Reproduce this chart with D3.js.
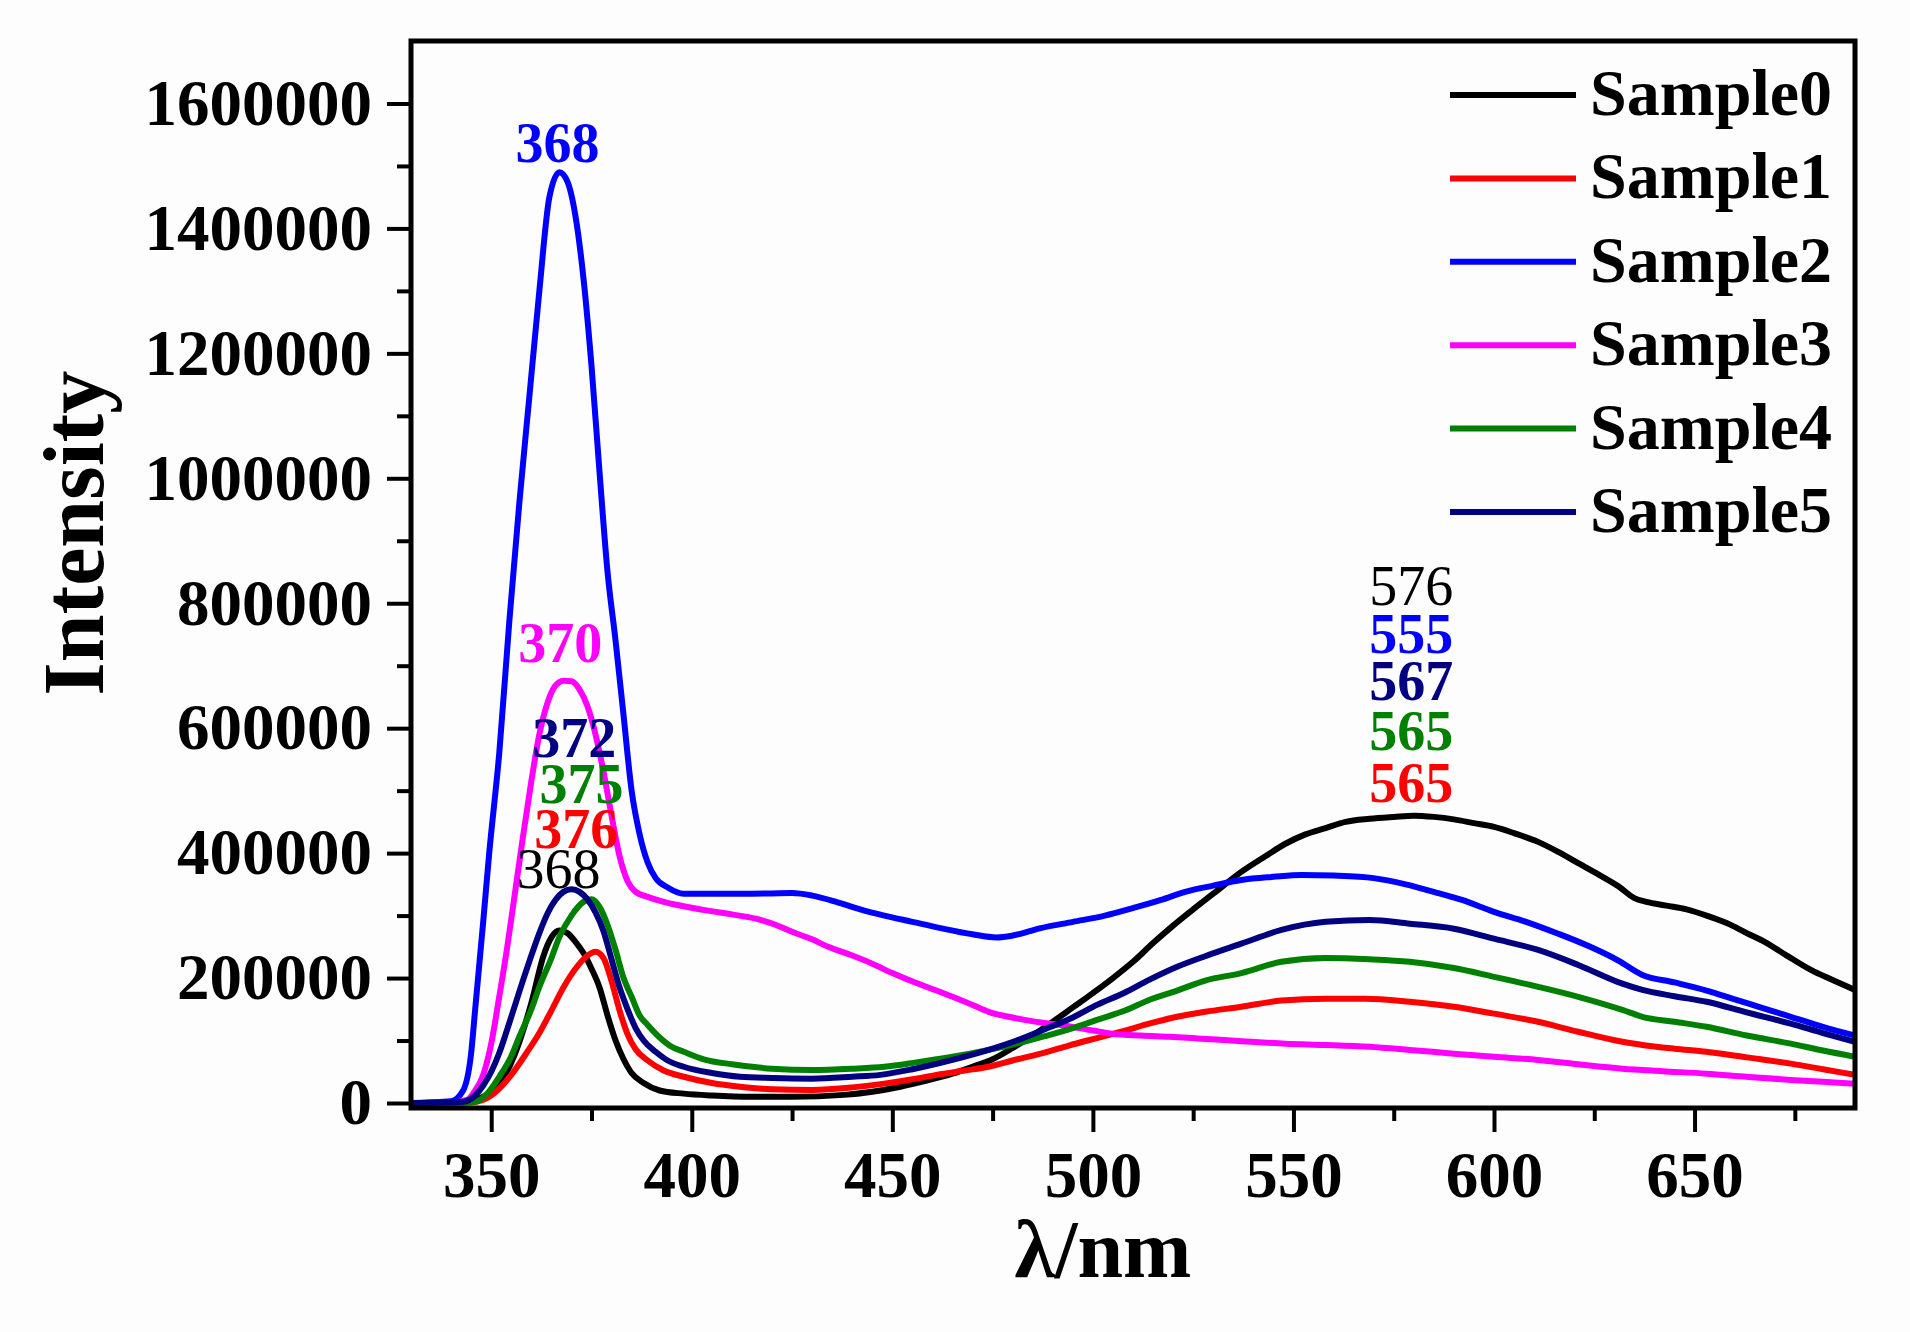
<!DOCTYPE html>
<html>
<head>
<meta charset="utf-8">
<script src="https://cdn.jsdelivr.net/npm/d3@7"></script>
<style>
  html, body { margin: 0; padding: 0; background: #fdfdfd; }
  svg { display: block; }
  text { font-family: "Liberation Serif", "Times New Roman", serif; }
</style>
</head>
<body>
<svg id="chart"></svg>
<script>
// series names and colours
const seriesNames = ["Sample0", "Sample1", "Sample2", "Sample3", "Sample4", "Sample5"];
const seriesColors = ["#000000", "#ff0000", "#0000ff", "#ff00ff", "#008000", "#000080"];

// [wavelength nm, intensity]
const sample0 = [[330,0],[344,2000],[348,10000],[352,30000],[356,80000],[360,160000],[363,235000],[365,265000],[367,276000],[369,272000],[371,258000],[373,240000],[375,215000],[377,185000],[379,140000],[381,100000],[383,70000],[385,48000],[388,32000],[392,20000],[398,15000],[405,12000],[415,10000],[425,10000],[438,13000],[445,18000],[452,26000],[458,35000],[465,47000],[470,58000],[475,70000],[480,88000],[485,108000],[490,130000],[495,153000],[500,176000],[505,200000],[510,226000],[515,256000],[520,284000],[525,310000],[530,335000],[537,370000],[543,395000],[548,415000],[553,430000],[558,440000],[563,450000],[569,455000],[575,458000],[580,460000],[585,458000],[590,454000],[595,448000],[600,442000],[605,432000],[611,418000],[616,402000],[621,384000],[626,366000],[631,347000],[635,328000],[638,322000],[643,316000],[648,310000],[653,300000],[658,288000],[663,272000],[668,256000],[673,236000],[679,213000],[684,198000],[690,181000]];
const sample1 = [[330,0],[345,1000],[350,12000],[355,45000],[359,82000],[362,112000],[365,148000],[368,185000],[371,215000],[374,236000],[376,242000],[378,232000],[380,195000],[382,148000],[384,110000],[386,86000],[389,68000],[393,52000],[398,42000],[405,32000],[412,26000],[420,22000],[430,21000],[440,25000],[448,31000],[455,38000],[461,45000],[468,52000],[474,58000],[480,68000],[487,79000],[494,92000],[501,104000],[508,116000],[514,127000],[521,138000],[528,146000],[537,154000],[547,164000],[558,167000],[568,167000],[579,162000],[590,154000],[600,143000],[611,130000],[621,114000],[632,98000],[637,93000],[645,87000],[653,82000],[663,73000],[674,63000],[682,54000],[690,45000]];
const sample2 = [[330,0],[340,3000],[343,20000],[345,80000],[346,150000],[348,290000],[349.5,400000],[352,560000],[354.5,770000],[357,960000],[359.5,1130000],[362,1300000],[364.5,1450000],[367,1490000],[369,1475000],[371,1420000],[373,1320000],[375,1180000],[377,1010000],[379,850000],[381,740000],[383,620000],[385,500000],[387,430000],[389,385000],[391,360000],[394,345000],[398,335000],[405,335000],[415,335000],[425,336000],[430,332000],[436,322000],[442,310000],[448,300000],[455,290000],[462,280000],[470,270000],[476,265000],[480,268000],[487,280000],[495,290000],[503,300000],[510,312000],[517,325000],[523,338000],[530,348000],[537,357000],[545,362000],[552,365000],[560,364000],[570,360000],[578,350000],[585,338000],[592,325000],[600,306000],[608,290000],[616,271000],[624,250000],[631,228000],[637,205000],[645,193000],[653,180000],[660,166000],[667,152000],[674,138000],[682,122000],[690,108000]];
const sample3 = [[330,0],[340,1000],[344,5000],[346,20000],[348,45000],[350,95000],[352,170000],[354,250000],[356,340000],[358,430000],[360,515000],[362,590000],[364,640000],[366,668000],[368,676000],[370,675000],[372,662000],[374,635000],[376,590000],[378,530000],[380,460000],[382,395000],[384,355000],[386,338000],[389,330000],[393,322000],[398,315000],[404,308000],[410,302000],[416,295000],[421,285000],[425,274000],[430,262000],[434,250000],[440,236000],[445,223000],[450,208000],[456,192000],[461,180000],[465,170000],[470,157000],[474,146000],[479,138000],[483,133000],[488,128000],[492,125000],[500,116000],[505,111000],[512,108000],[519,106000],[527,103000],[537,99000],[548,95000],[558,93000],[569,90000],[579,85000],[590,79000],[600,74000],[611,69000],[621,62000],[632,55000],[642,51000],[653,47000],[663,42000],[674,37000],[682,34000],[690,31000]];
const sample4 = [[330,0],[346,2000],[349,15000],[352,42000],[355,75000],[357,106000],[360,150000],[362,186000],[365,232000],[367,266000],[370,300000],[373,322000],[375,326000],[377,314000],[379,285000],[381,245000],[383,200000],[385,170000],[387,140000],[389,125000],[392,105000],[395,90000],[398,82000],[403,70000],[410,62000],[420,55000],[430,53000],[440,55000],[448,58000],[456,65000],[465,74000],[474,85000],[481,95000],[488,107000],[495,120000],[501,133000],[508,148000],[514,165000],[521,180000],[528,196000],[537,208000],[547,226000],[558,232000],[569,230000],[579,226000],[590,216000],[600,202000],[611,186000],[621,170000],[632,149000],[637,138000],[645,130000],[653,122000],[663,108000],[674,95000],[682,84000],[690,74000]];
const sample5 = [[330,0],[343,2000],[346,12000],[348,28000],[350,50000],[352,80000],[354,118000],[356,158000],[358,198000],[360,236000],[362,272000],[364,303000],[366,325000],[368,338000],[370,342000],[372,338000],[374,326000],[376,305000],[378,275000],[380,230000],[382,185000],[384,150000],[386,120000],[388,100000],[391,82000],[394,68000],[398,58000],[405,48000],[412,42000],[420,40000],[430,39000],[440,42000],[447,45000],[455,54000],[465,69000],[474,85000],[481,100000],[488,118000],[495,137000],[501,157000],[508,177000],[514,197000],[521,218000],[528,235000],[537,255000],[547,277000],[558,290000],[569,293000],[579,287000],[590,279000],[600,263000],[611,245000],[621,221000],[632,191000],[637,181000],[645,171000],[653,162000],[663,145000],[674,127000],[682,112000],[690,98000]];
const seriesData = [sample0, sample1, sample2, sample3, sample4, sample5];

// peak annotations: text, series index, anchor in data units (wavelength, intensity)
const peakLabels = [
  { text: "368", s: 2, x: 366.5, y: 1506000 },
  { text: "370", s: 3, x: 367.2, y: 706000 },
  { text: "372", s: 5, x: 370.7, y: 554000 },
  { text: "375", s: 4, x: 372.5, y: 480000 },
  { text: "376", s: 1, x: 371.2, y: 408000 },
  { text: "368", s: 0, x: 366.8, y: 344000 },
  { text: "576", s: 0, x: 579.4, y: 797000 },
  { text: "555", s: 2, x: 579.4, y: 720000 },
  { text: "567", s: 5, x: 579.4, y: 645000 },
  { text: "565", s: 4, x: 579.4, y: 565000 },
  { text: "565", s: 1, x: 579.4, y: 482000 }
];

// axis ticks
const xMajorTicks = [350, 400, 450, 500, 550, 600, 650];
const xMinorTicks = [375, 425, 475, 525, 575, 625, 675];
const yMajorTicks = [0, 200000, 400000, 600000, 800000, 1000000, 1200000, 1400000, 1600000];
const yMinorTicks = [100000, 300000, 500000, 700000, 900000, 1100000, 1300000, 1500000];

const width = 1910, height = 1332;
const margin = { left: 411, right: 55, top: 41, bottom: 224 };
const fontFamily = '"Liberation Serif", "Times New Roman", serif';

const svg = d3.select("#chart")
  .attr("width", width)
  .attr("height", height);

svg.append("rect")
  .attr("width", width)
  .attr("height", height)
  .attr("fill", "#fdfdfd");

const x = d3.scaleLinear().domain([330, 690]).range([margin.left, width - margin.right]);
const y = d3.scaleLinear().domain([-8000, 1700000]).range([height - margin.bottom, margin.top]);

// clip lines to the plot frame
svg.append("clipPath")
  .attr("id", "plotClip")
  .append("rect")
  .attr("x", margin.left)
  .attr("y", margin.top)
  .attr("width", width - margin.left - margin.right)
  .attr("height", height - margin.top - margin.bottom);

const line = d3.line()
  .x(d => x(d[0]))
  .y(d => y(d[1]))
  .curve(d3.curveMonotoneX);

// draw spectra
svg.append("g")
  .attr("clip-path", "url(#plotClip)")
  .selectAll("path")
  .data(seriesData)
  .join("path")
  .attr("fill", "none")
  .attr("stroke", (d, i) => seriesColors[i])
  .attr("stroke-width", 6)
  .attr("stroke-linejoin", "round")
  .attr("d", line);

// x axis (major + minor ticks)
const xAxis = svg.append("g").attr("transform", `translate(0,${height - margin.bottom})`);
xAxis.call(d3.axisBottom(x).tickValues(xMajorTicks).tickSize(24).tickSizeOuter(0).tickFormat(d3.format("d")));
xAxis.call(g => g.append("g").call(d3.axisBottom(x).tickValues(xMinorTicks).tickSize(13).tickFormat("")));
xAxis.selectAll(".domain").remove();
xAxis.selectAll("line").attr("stroke", "#000").attr("stroke-width", 4);
xAxis.selectAll("text")
  .attr("fill", "#000")
  .attr("font-family", fontFamily)
  .attr("font-weight", "bold")
  .attr("font-size", 65)
  .attr("dy", null)
  .attr("y", 89);

// y axis (major + minor ticks)
const yAxis = svg.append("g").attr("transform", `translate(${margin.left},0)`);
yAxis.call(d3.axisLeft(y).tickValues(yMajorTicks).tickSize(24).tickSizeOuter(0).tickFormat(d3.format("d")));
yAxis.call(g => g.append("g").call(d3.axisLeft(y).tickValues(yMinorTicks).tickSize(14).tickFormat("")));
yAxis.selectAll(".domain").remove();
yAxis.selectAll("line").attr("stroke", "#000").attr("stroke-width", 4);
yAxis.selectAll("text")
  .attr("fill", "#000")
  .attr("font-family", fontFamily)
  .attr("font-weight", "bold")
  .attr("font-size", 65)
  .attr("dy", "0.32em")
  .attr("x", -39);

// plot frame
svg.append("rect")
  .attr("x", margin.left)
  .attr("y", margin.top)
  .attr("width", width - margin.left - margin.right)
  .attr("height", height - margin.top - margin.bottom)
  .attr("fill", "none")
  .attr("stroke", "#000")
  .attr("stroke-width", 5);

// axis titles
svg.append("text")
  .attr("x", x(502.5))
  .attr("y", 1277)
  .attr("text-anchor", "middle")
  .attr("font-size", 82)
  .attr("font-weight", "bold")
  .text("λ/nm");

svg.append("text")
  .attr("transform", `translate(103,${y(912000)}) rotate(-90)`)
  .attr("text-anchor", "middle")
  .attr("font-size", 86)
  .attr("font-weight", "bold")
  .text("Intensity");

// peak labels
svg.append("g")
  .selectAll("text")
  .data(peakLabels)
  .join("text")
  .attr("x", d => x(d.x))
  .attr("y", d => y(d.y))
  .attr("text-anchor", "middle")
  .attr("font-size", 56)
  .attr("font-weight", d => d.s === 0 ? "normal" : "bold")
  .attr("fill", d => seriesColors[d.s])
  .text(d => d.text);

// legend
const legend = svg.append("g").attr("transform", "translate(1450,95)");
const legendItem = legend.selectAll("g")
  .data(seriesNames)
  .join("g")
  .attr("transform", (d, i) => `translate(0,${i * 83.4})`);

legendItem.append("line")
  .attr("x1", 0)
  .attr("x2", 126)
  .attr("stroke", (d, i) => seriesColors[i])
  .attr("stroke-width", 6);

legendItem.append("text")
  .attr("x", 140)
  .attr("y", 20)
  .attr("font-size", 66)
  .attr("font-weight", "bold")
  .text(d => d);
</script>
</body>
</html>
